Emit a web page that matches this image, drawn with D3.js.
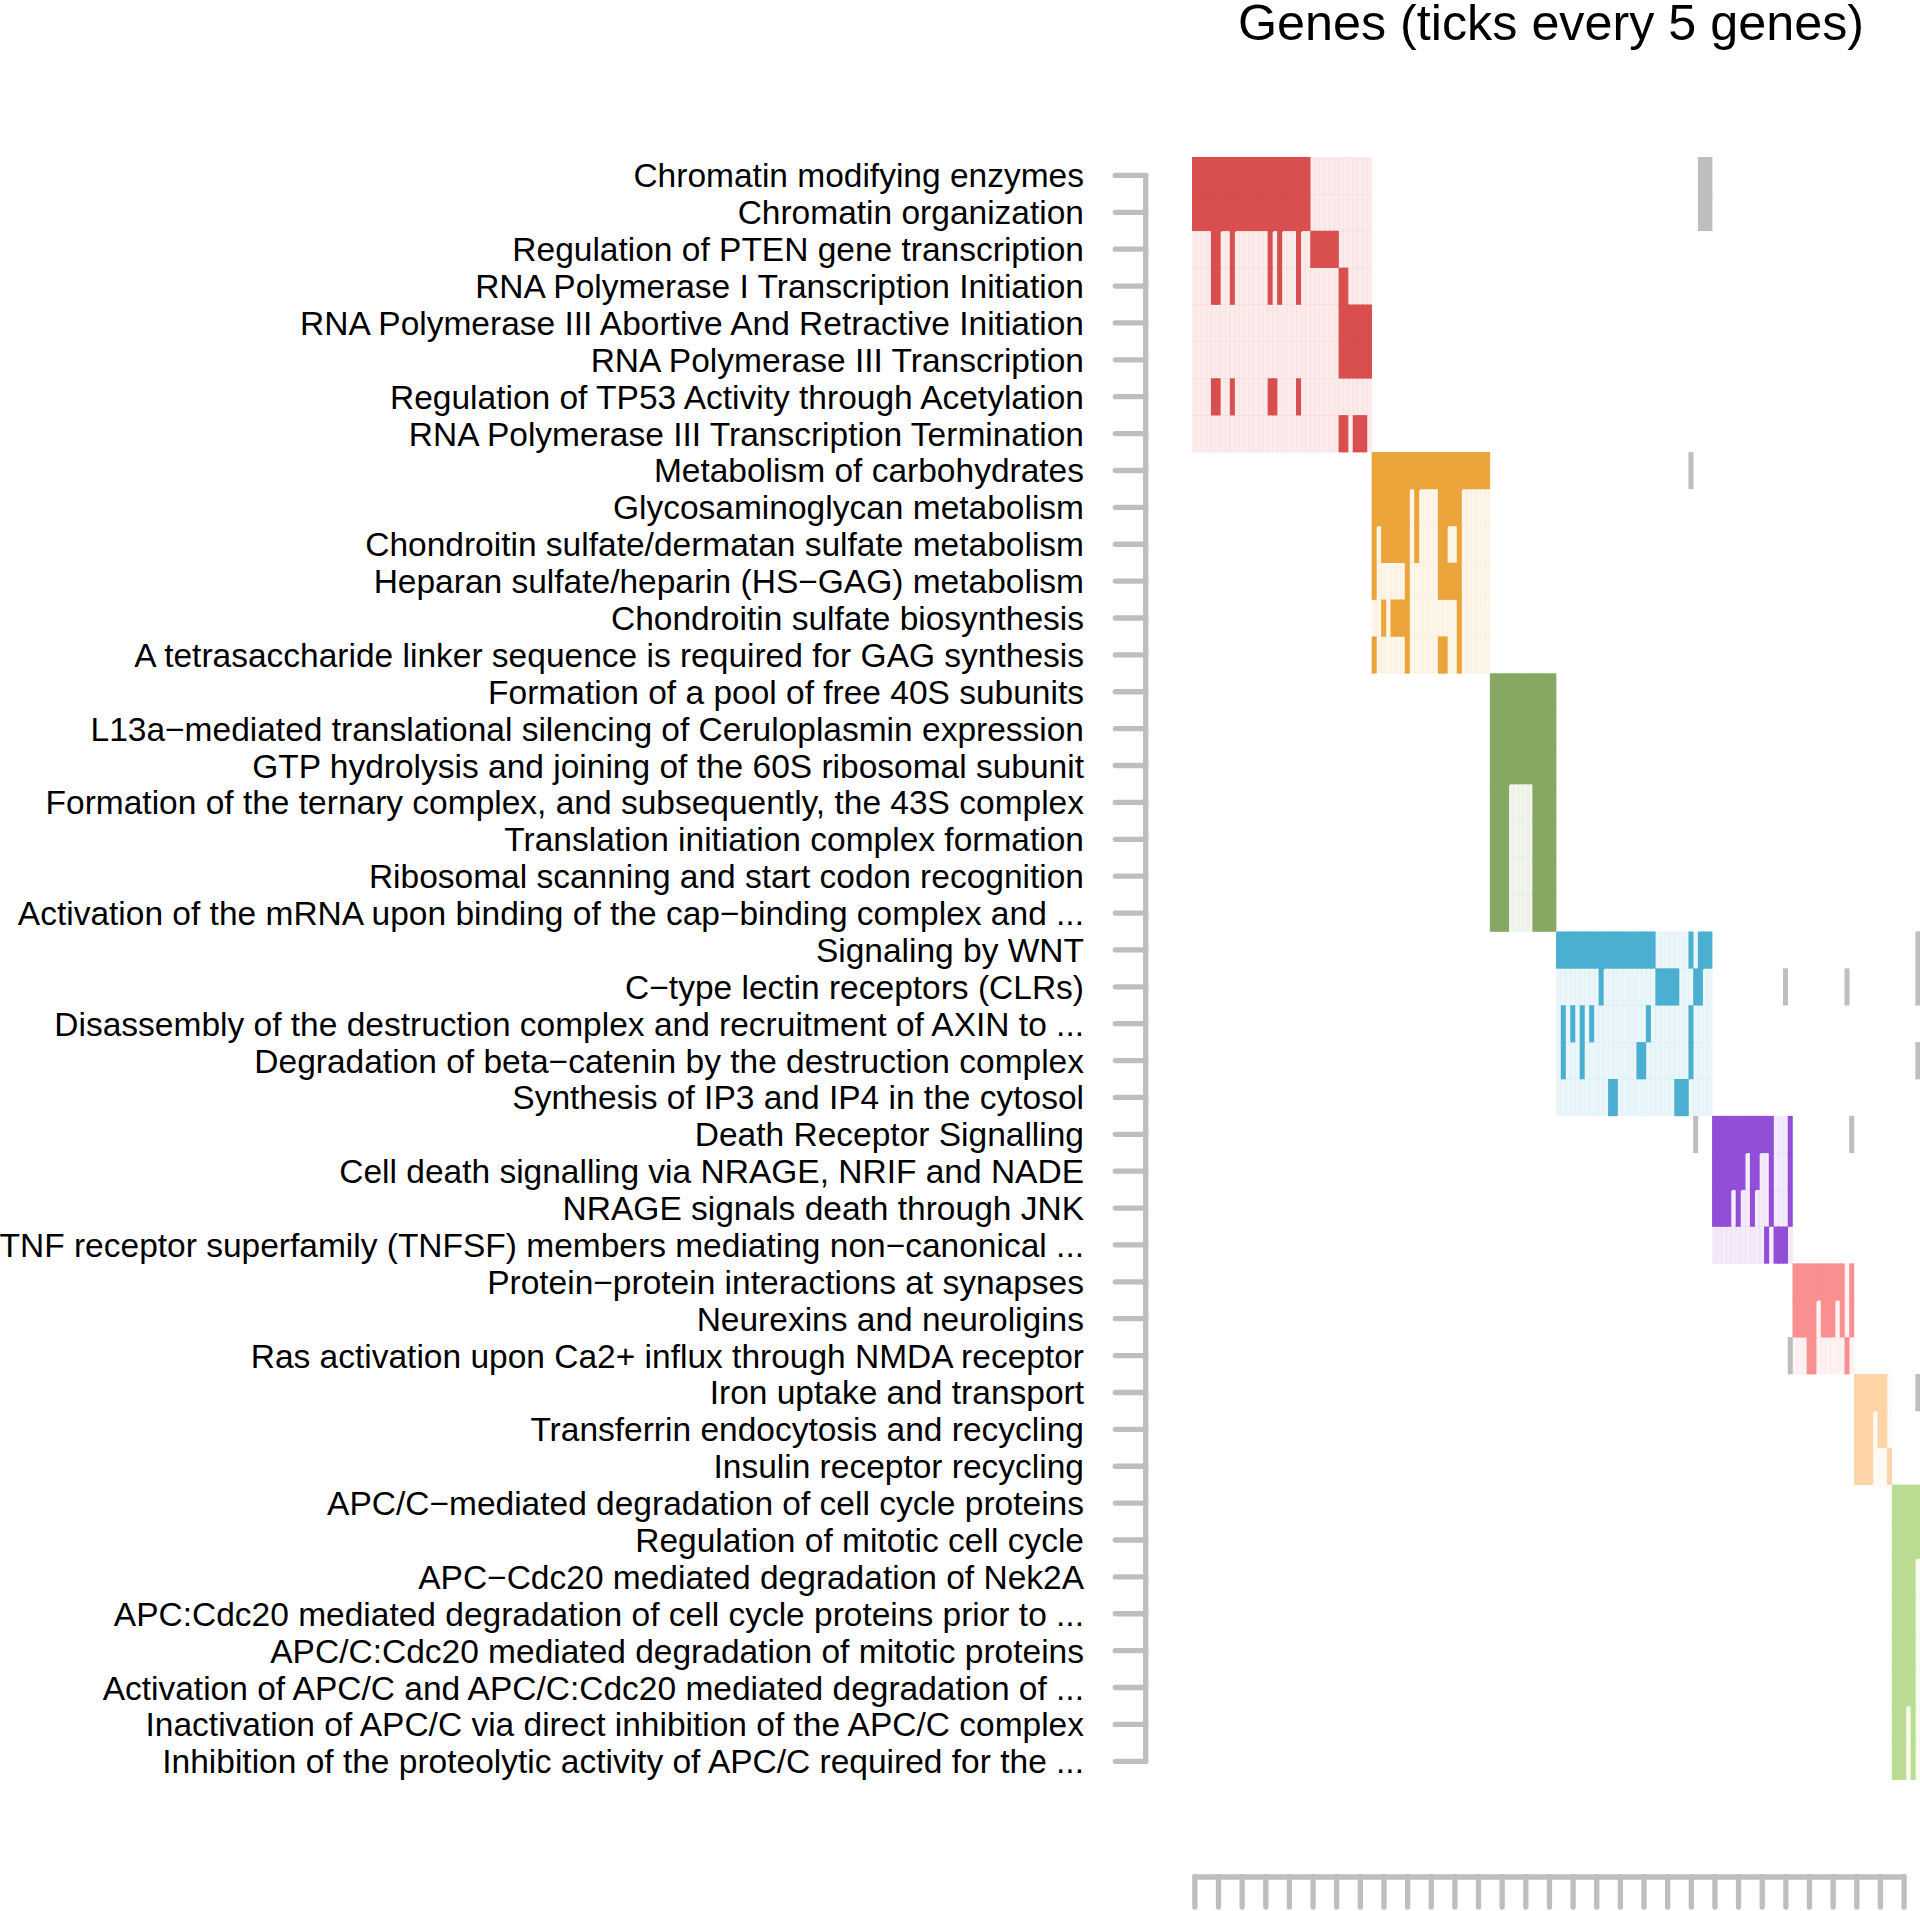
<!DOCTYPE html>
<html>
<head>
<meta charset="utf-8">
<script src="https://cdn.jsdelivr.net/npm/d3@7"></script>
<style>
  html, body { margin: 0; padding: 0; background: #fff; overflow: hidden; }
  svg { display: block; }
  text { font-family: "Liberation Sans", Arial, Helvetica, sans-serif; fill: #000; }
</style>
</head>
<body>
<svg id="chart" width="1920" height="1911"></svg>
<script>
// ---------------- DATA ----------------
const pathways = [
  "Chromatin modifying enzymes",
  "Chromatin organization",
  "Regulation of PTEN gene transcription",
  "RNA Polymerase I Transcription Initiation",
  "RNA Polymerase III Abortive And Retractive Initiation",
  "RNA Polymerase III Transcription",
  "Regulation of TP53 Activity through Acetylation",
  "RNA Polymerase III Transcription Termination",
  "Metabolism of carbohydrates",
  "Glycosaminoglycan metabolism",
  "Chondroitin sulfate/dermatan sulfate metabolism",
  "Heparan sulfate/heparin (HS\u2212GAG) metabolism",
  "Chondroitin sulfate biosynthesis",
  "A tetrasaccharide linker sequence is required for GAG synthesis",
  "Formation of a pool of free 40S subunits",
  "L13a\u2212mediated translational silencing of Ceruloplasmin expression",
  "GTP hydrolysis and joining of the 60S ribosomal subunit",
  "Formation of the ternary complex, and subsequently, the 43S complex",
  "Translation initiation complex formation",
  "Ribosomal scanning and start codon recognition",
  "Activation of the mRNA upon binding of the cap\u2212binding complex and ...",
  "Signaling by WNT",
  "C\u2212type lectin receptors (CLRs)",
  "Disassembly of the destruction complex and recruitment of AXIN to ...",
  "Degradation of beta\u2212catenin by the destruction complex",
  "Synthesis of IP3 and IP4 in the cytosol",
  "Death Receptor Signalling",
  "Cell death signalling via NRAGE, NRIF and NADE",
  "NRAGE signals death through JNK",
  "TNF receptor superfamily (TNFSF) members mediating non\u2212canonical ...",
  "Protein\u2212protein interactions at synapses",
  "Neurexins and neuroligins",
  "Ras activation upon Ca2+ influx through NMDA receptor",
  "Iron uptake and transport",
  "Transferrin endocytosis and recycling",
  "Insulin receptor recycling",
  "APC/C\u2212mediated degradation of cell cycle proteins",
  "Regulation of mitotic cell cycle",
  "APC\u2212Cdc20 mediated degradation of Nek2A",
  "APC:Cdc20 mediated degradation of cell cycle proteins prior to ...",
  "APC/C:Cdc20 mediated degradation of mitotic proteins",
  "Activation of APC/C and APC/C:Cdc20 mediated degradation of ...",
  "Inactivation of APC/C via direct inhibition of the APC/C complex",
  "Inhibition of the proteolytic activity of APC/C required for the ..."
];

// number of genes in each gene cluster (columns, left to right)
const clusterSizes = [38, 25, 14, 33, 17, 13, 8, 6];

// cluster of each pathway row
const rowCluster = [
  0,0,0,0,0,0,0,0,
  1,1,1,1,1,1,
  2,2,2,2,2,2,2,
  3,3,3,3,3,
  4,4,4,4,
  5,5,5,
  6,6,6,
  7,7,7,7,7,7,7,7
];

// genes (column indices) belonging to each pathway row
const rowGenes = [
  "0-24,107-109",
  "0-24,107-109",
  "4-5,8,16,18,22,25-30",
  "4-5,8,16,18,22,31-32",
  "31-37",
  "31-37",
  "4-5,8,16-17,22",
  "31-32,34-36",
  "38-62,105",
  "38-45,47,52-56",
  "38,40-45,47,52-53,56",
  "38,45,52-56",
  "40,42-45,56",
  "38,45,52-53,56",
  "63-76",
  "63-76",
  "63-76",
  "63-66,72-76",
  "63-66,72-76",
  "63-66,72-76",
  "63-66,72-76",
  "77-97,105,107-109,153",
  "86,98-102,106-107,125,138,153",
  "78,80,82,84,96,105",
  "78,82,94-95,105,153",
  "88-89,102-104",
  "106,110-122,126,139",
  "110-116,118-119,122,126",
  "110-113,115,118,122,126",
  "121,123-125",
  "127-137,139",
  "127-131,133-135,137,139",
  "126,130-131,138",
  "140-146,153",
  "140-143,145-146",
  "140-143,147",
  "148-153",
  "148-153",
  "148-152",
  "148-152",
  "148-152",
  "148-152",
  "148-150,152",
  "148-150,152"
];

// bottom axis tick values (every 5 genes)
const bottomTicks = d3.range(0, 151, 5);

// ---------------- STYLE ----------------
const clusterColors = ["#D94E4E", "#EBA43A", "#86A862", "#4AAFD1", "#924ED6", "#F98F8F", "#FFD4A6", "#BADD92"];
const greyColor = "#BEBEBE";
const axisColor = "#BEBEBE";

// ---------------- BUILD ----------------
function parseRanges(s) {
  const out = [];
  s.split(",").forEach(p => {
    const [a, b] = p.split("-").map(Number);
    if (b === undefined) out.push(a); else for (let i = a; i <= b; i++) out.push(i);
  });
  return out;
}

const nGenes = d3.sum(clusterSizes);
const clusterStart = [];
clusterSizes.reduce((acc, s, i) => { clusterStart[i] = acc; return acc + s; }, 0);

const svg = d3.select("#chart");

const x = d3.scaleBand().domain(d3.range(nGenes)).range([1192, 1192 + nGenes * 4.728]).padding(0);
const y = d3.scaleBand().domain(d3.range(pathways.length)).range([157, 157 + pathways.length * 36.88]).padding(0);

const memberSets = rowGenes.map(s => new Set(parseRanges(s)));
const cells = [];
pathways.forEach((p, r) => {
  const c = rowCluster[r];
  const members = memberSets[r];
  const s = clusterStart[c], e = s + clusterSizes[c];
  for (let g = s; g < e; g++) {
    cells.push({ r, g, type: members.has(g) ? "on" : "off", color: clusterColors[c] });
  }
  members.forEach(g => {
    if (g < s || g >= e) cells.push({ r, g, type: "other", color: greyColor });
  });
});
const key = (r, g) => r + ":" + g;
const typeOf = new Map(cells.map(d => [key(d.r, d.g), d.type]));

const heat = svg.append("g");
const ov = 0.5;
// light background cells
heat.selectAll("rect.off").data(cells.filter(d => d.type === "off")).join("rect")
  .attr("class", "off")
  .attr("x", d => x(d.g)).attr("y", d => y(d.r))
  .attr("width", x.bandwidth() + ov).attr("height", y.bandwidth() + ov)
  .attr("fill", d => d.color).attr("fill-opacity", 0.115);
// member cells (extend slightly into a same-type neighbour to avoid seams)
heat.selectAll("rect.on").data(cells.filter(d => d.type !== "off")).join("rect")
  .attr("class", "on")
  .attr("x", d => x(d.g)).attr("y", d => y(d.r))
  .attr("width", d => x.bandwidth() + (typeOf.get(key(d.r, d.g + 1)) === d.type ? 1.2 : 0.3))
  .attr("height", d => y.bandwidth() + (typeOf.get(key(d.r + 1, d.g)) === d.type ? 1.2 : 0.3))
  .attr("fill", d => d.color);

// left axis (ticks at row centres)
const yc = r => y(r) + y.bandwidth() / 2;
const axisX = 1145.7;
const la = svg.append("g").attr("stroke", axisColor).attr("stroke-width", 5.3).attr("stroke-linecap", "round").attr("fill", "none");
la.append("line").attr("x1", axisX).attr("x2", axisX).attr("y1", yc(0)).attr("y2", yc(pathways.length - 1));
la.selectAll("line.t").data(d3.range(pathways.length)).join("line").attr("class", "t")
  .attr("x1", axisX).attr("x2", 1115.3).attr("y1", yc).attr("y2", yc);

// row labels
svg.append("g").selectAll("text").data(pathways).join("text")
  .attr("x", 1084).attr("y", (d, i) => yc(i) + 12)
  .attr("text-anchor", "end").attr("font-size", 33.5)
  .text(d => d);

// bottom axis: ticks at every 5th gene centre
const xb = d3.scaleLinear().domain([0, 150])
  .range([x(0) + x.bandwidth() / 2, x(150) + x.bandwidth() / 2]);
const bAxis = svg.append("g").attr("transform", "translate(0,1876.5)")
  .call(d3.axisBottom(xb).tickValues(bottomTicks).tickFormat("").tickSizeInner(30.5).tickSizeOuter(0));
bAxis.select(".domain").attr("stroke", axisColor).attr("stroke-width", 5.3).attr("stroke-linecap", "round");
bAxis.selectAll(".tick line").attr("stroke", axisColor).attr("stroke-width", 5.3).attr("stroke-linecap", "round");

// title
svg.append("text").attr("x", 1551).attr("y", 39.5).attr("text-anchor", "middle")
  .attr("font-size", 50.3).text("Genes (ticks every 5 genes)");
</script>
</body>
</html>
